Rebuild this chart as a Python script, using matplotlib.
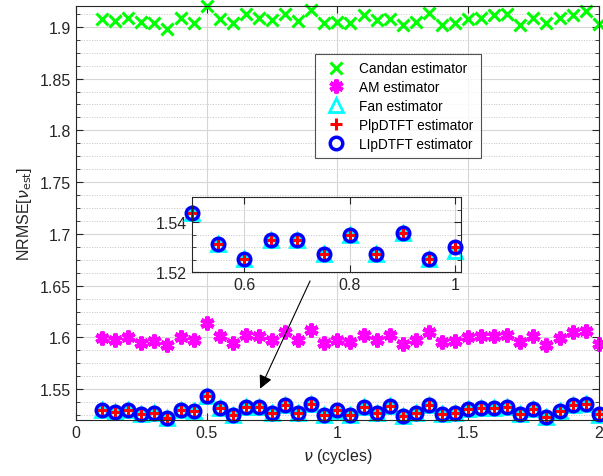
import matplotlib
matplotlib.use("Agg")
import matplotlib.pyplot as plt
import numpy as np
from matplotlib.ticker import FuncFormatter, MultipleLocator

plt.rcParams["font.family"] = ["Liberation Sans", "DejaVu Sans"]
plt.rcParams["mathtext.fontset"] = "dejavusans"

# frequency grid (cycles)
nu = [0.10, 0.15, 0.20, 0.25, 0.30, 0.35, 0.40, 0.45, 0.50, 0.55,
      0.60, 0.65, 0.70, 0.75, 0.80, 0.85, 0.90, 0.95, 1.00, 1.05,
      1.10, 1.15, 1.20, 1.25, 1.30, 1.35, 1.40, 1.45, 1.50, 1.55,
      1.60, 1.65, 1.70, 1.75, 1.80, 1.85, 1.90, 1.95, 2.00]

candan = [1.9072, 1.9059, 1.9088, 1.9046, 1.9039, 1.8980, 1.9088, 1.9039, 1.9205, 1.9078,
          1.9039, 1.9127, 1.9088, 1.9062, 1.9127, 1.9052, 1.9167, 1.9039, 1.9046, 1.9039,
          1.9111, 1.9062, 1.9072, 1.9020, 1.9046, 1.9137, 1.9020, 1.9039, 1.9078, 1.9085,
          1.9111, 1.9127, 1.9020, 1.9085, 1.9039, 1.9085, 1.9118, 1.9150, 1.9029]

am = [1.5993, 1.5971, 1.6000, 1.5944, 1.5967, 1.5922, 1.6000, 1.5971, 1.6140, 1.6010,
      1.5944, 1.6026, 1.6016, 1.5971, 1.6049, 1.5971, 1.6075, 1.5944, 1.5971, 1.5951,
      1.6026, 1.5971, 1.6026, 1.5938, 1.5971, 1.6049, 1.5951, 1.5961, 1.6000, 1.6016,
      1.6016, 1.6026, 1.5951, 1.6010, 1.5928, 1.5993, 1.6049, 1.6065, 1.5938]

lipdtft = [1.5300, 1.5280, 1.5300, 1.5255, 1.5270, 1.5225, 1.5300, 1.5288, 1.5435, 1.5314,
           1.5252, 1.5328, 1.5328, 1.5273, 1.5347, 1.5272, 1.5358, 1.5254, 1.5302, 1.5249,
           1.5330, 1.5272, 1.5337, 1.5239, 1.5272, 1.5347, 1.5259, 1.5265, 1.5304, 1.5314,
           1.5314, 1.5324, 1.5259, 1.5304, 1.5232, 1.5288, 1.5347, 1.5357, 1.5259]

plpdtft = list(lipdtft)

fan = list(lipdtft)
fan[18] = 1.5285
fan[38] = 1.5250

asterisk = (6, 2, 0)
series = [
    ("Candan estimator", candan, dict(marker="x", color="#00ff00", ms=8, mew=2.2)),
    ("AM estimator", am, dict(marker=asterisk, color="#ff00ff", ms=10, mew=3.0)),
    ("Fan estimator", fan, dict(marker="^", color="#00ffff", ms=10, mew=2.0, mfc="none")),
    ("PlpDTFT estimator", plpdtft, dict(marker="+", color="#ff0000", ms=8, mew=2.2)),
    ("LIpDTFT estimator", lipdtft, dict(marker="o", color="#0000ff", ms=9, mew=2.5, mfc="none")),
]

fmt = FuncFormatter(lambda v, _: f"{v:g}")
txt = "#262626"


def style_axes(ax, fs):
    ax.tick_params(which="both", direction="in", top=True, right=True, colors=txt, labelsize=fs)
    ax.tick_params(which="major", length=5, width=0.8)
    ax.tick_params(which="minor", length=3, width=0.6)
    ax.tick_params(axis="x", which="minor", length=0)
    ax.grid(True, which="major", color="#d6d6d6", lw=0.8)
    ax.grid(True, which="minor", axis="y", color="#c4c4c4", lw=0.7, ls=":")
    ax.set_axisbelow(True)
    for s in ax.spines.values():
        s.set_color(txt)
        s.set_linewidth(0.8)
    ax.xaxis.set_major_formatter(fmt)
    ax.yaxis.set_major_formatter(fmt)


fig = plt.figure(figsize=(6.03, 4.77), dpi=100)
ax = fig.add_axes([0.126, 0.117, 0.867, 0.868])

for label, vals, kw in series:
    ax.plot(nu, vals, ls="none", label=label, clip_on=False, **kw)

ax.set_xlim(0, 2)
ax.set_ylim(1.52, 1.92)
ax.xaxis.set_major_locator(MultipleLocator(0.5))
ax.yaxis.set_major_locator(MultipleLocator(0.05))
ax.yaxis.set_minor_locator(MultipleLocator(0.0125))
style_axes(ax, 11.5)
ax.set_xlabel(r"$\nu$ (cycles)", fontsize=11.5, color=txt)
ax.set_ylabel(r"NRMSE[$\nu_{\rm est}$]", fontsize=11.5, color=txt)

leg = ax.legend(loc="upper right", bbox_to_anchor=(0.797, 0.885), bbox_transform=fig.transFigure,
                borderaxespad=0, fontsize=9.8, frameon=True, fancybox=False, borderpad=0.55,
                labelspacing=0.36, handletextpad=0.7, handlelength=2.0)
leg.get_frame().set_edgecolor(txt)
leg.get_frame().set_linewidth(0.8)

ax.annotate("", xy=(0.70, 1.548), xytext=(0.90, 1.657),
            arrowprops=dict(arrowstyle="-|>", color="black", lw=0.8, mutation_scale=20))

# zoomed inset around 0.5 .. 1 cycles
axin = fig.add_axes([0.318, 0.427, 0.446, 0.158])
for label, vals, kw in series:
    axin.plot(nu, vals, ls="none", clip_on=False, **kw)
axin.set_xlim(0.5, 1.01)
axin.set_ylim(1.52, 1.55)
axin.xaxis.set_major_locator(MultipleLocator(0.2))
axin.yaxis.set_major_locator(MultipleLocator(0.02))
axin.yaxis.set_minor_locator(MultipleLocator(0.005))
style_axes(axin, 11.5)

# hide inset points outside the zoom window
for ln in axin.lines:
    x = np.asarray(ln.get_xdata())
    y = np.asarray(ln.get_ydata())
    keep = (x >= 0.5) & (x <= 1.0) & (y >= 1.52) & (y <= 1.55)
    ln.set_data(x[keep], y[keep])

fig.savefig("out.png", dpi=100)
